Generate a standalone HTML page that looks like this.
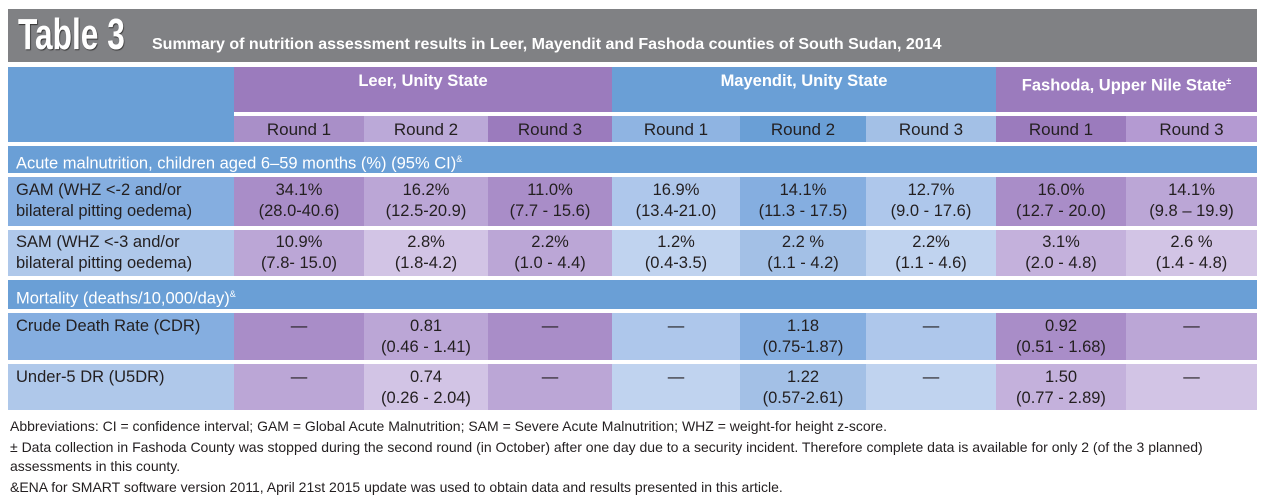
<!DOCTYPE html>
<html><head><meta charset="utf-8"><style>
body{margin:0;width:1267px;height:502px;background:#fff;position:relative;font-family:"Liberation Sans",sans-serif;overflow:hidden}
div.c{position:absolute;box-sizing:border-box;font-size:16.5px;color:#231f20;text-align:center;line-height:21px}
.w{color:#fff!important;font-weight:bold}
.l{text-align:left!important;padding-left:8px}
.fn{position:absolute;left:10px;font-size:14px;color:#231f20;white-space:nowrap}
</style></head><body>
<div class="c" style="left:8px;top:9px;width:1249px;height:53px;background:#808184"></div>
<div class="c w" style="left:18px;top:12px;height:46px;font-size:44px;line-height:46px;transform:scaleX(0.72);transform-origin:left;text-shadow:1px 1px 1px #333;text-align:left">Table 3</div>
<div class="c w" style="left:152px;top:34px;font-size:16px;text-align:left;white-space:nowrap">Summary of nutrition assessment results in Leer, Mayendit and Fashoda counties of South Sudan, 2014</div>

<div class="c" style="left:8px;top:67px;width:226px;height:75px;background:#6a9fd6"></div>
<div class="c w" style="left:234px;top:67px;width:378px;height:45px;background:#9b7bbd;padding-top:4px">Leer, Unity State</div>
<div class="c w" style="left:612px;top:67px;width:384px;height:45px;background:#6a9fd6;padding-top:4px">Mayendit, Unity State</div>
<div class="c w" style="left:996px;top:67px;width:261px;height:45px;background:#9b7bbd;padding-top:4px">Fashoda, Upper Nile State<sup style="font-size:9px">±</sup></div>

<div class="c" style="left:234px;top:116px;width:130px;height:26px;background:#a98fc8;padding-top:3px;font-size:17px">Round 1</div>
<div class="c" style="left:364px;top:116px;width:124px;height:26px;background:#bba9d8;padding-top:3px;font-size:17px">Round 2</div>
<div class="c" style="left:488px;top:116px;width:124px;height:26px;background:#9b7bbd;padding-top:3px;font-size:17px">Round 3</div>
<div class="c" style="left:612px;top:116px;width:128px;height:26px;background:#8fb4e2;padding-top:3px;font-size:17px">Round 1</div>
<div class="c" style="left:740px;top:116px;width:126px;height:26px;background:#6a9fd6;padding-top:3px;font-size:17px">Round 2</div>
<div class="c" style="left:866px;top:116px;width:130px;height:26px;background:#a3c0e6;padding-top:3px;font-size:17px">Round 3</div>
<div class="c" style="left:996px;top:116px;width:130px;height:26px;background:#9b7bbd;padding-top:3px;font-size:17px">Round 1</div>
<div class="c" style="left:1126px;top:116px;width:131px;height:26px;background:#b49ad2;padding-top:3px;font-size:17px">Round 3</div>

<div class="c w l" style="left:8px;top:146px;width:1249px;height:27px;background:#6a9fd6;padding-top:3px;font-weight:normal">Acute malnutrition, children aged 6–59 months (%) (95% CI)<sup style="font-size:9px">&amp;</sup></div>

<div class="c l" style="left:8px;top:177px;width:226px;height:49px;background:#85aee0;padding-top:3px">GAM (WHZ &lt;-2 and/or<br>bilateral pitting oedema)</div>
<div class="c" style="left:234px;top:177px;width:130px;height:49px;background:#a98dc8;padding-top:3px">34.1%<br>(28.0-40.6)</div>
<div class="c" style="left:364px;top:177px;width:124px;height:49px;background:#bba6d6;padding-top:3px">16.2%<br>(12.5-20.9)</div>
<div class="c" style="left:488px;top:177px;width:124px;height:49px;background:#a98dc8;padding-top:3px">11.0%<br>(7.7 - 15.6)</div>
<div class="c" style="left:612px;top:177px;width:128px;height:49px;background:#aec7eb;padding-top:3px">16.9%<br>(13.4-21.0)</div>
<div class="c" style="left:740px;top:177px;width:126px;height:49px;background:#85aee0;padding-top:3px">14.1%<br>(11.3 - 17.5)</div>
<div class="c" style="left:866px;top:177px;width:130px;height:49px;background:#aec7eb;padding-top:3px">12.7%<br>(9.0 - 17.6)</div>
<div class="c" style="left:996px;top:177px;width:130px;height:49px;background:#a98dc8;padding-top:3px">16.0%<br>(12.7 - 20.0)</div>
<div class="c" style="left:1126px;top:177px;width:131px;height:49px;background:#bba6d6;padding-top:3px">14.1%<br>(9.8 – 19.9)</div>

<div class="c l" style="left:8px;top:230px;width:226px;height:46px;background:#afc8ea;padding-top:2px">SAM (WHZ &lt;-3 and/or<br>bilateral pitting oedema)</div>
<div class="c" style="left:234px;top:230px;width:130px;height:46px;background:#bba6d6;padding-top:2px">10.9%<br>(7.8- 15.0)</div>
<div class="c" style="left:364px;top:230px;width:124px;height:46px;background:#d2c4e5;padding-top:2px">2.8%<br>(1.8-4.2)</div>
<div class="c" style="left:488px;top:230px;width:124px;height:46px;background:#bba6d6;padding-top:2px">2.2%<br>(1.0 - 4.4)</div>
<div class="c" style="left:612px;top:230px;width:128px;height:46px;background:#c0d3ef;padding-top:2px">1.2%<br>(0.4-3.5)</div>
<div class="c" style="left:740px;top:230px;width:126px;height:46px;background:#a3c0e6;padding-top:2px">2.2 %<br>(1.1 - 4.2)</div>
<div class="c" style="left:866px;top:230px;width:130px;height:46px;background:#c0d3ef;padding-top:2px">2.2%<br>(1.1 - 4.6)</div>
<div class="c" style="left:996px;top:230px;width:130px;height:46px;background:#c4b1dc;padding-top:2px">3.1%<br>(2.0 - 4.8)</div>
<div class="c" style="left:1126px;top:230px;width:131px;height:46px;background:#d2c4e5;padding-top:2px">2.6 %<br>(1.4 - 4.8)</div>

<div class="c w l" style="left:8px;top:280px;width:1249px;height:29px;background:#6a9fd6;padding-top:4px;font-weight:normal">Mortality (deaths/10,000/day)<sup style="font-size:9px">&amp;</sup></div>

<div class="c l" style="left:8px;top:313px;width:226px;height:47px;background:#85aee0;padding-top:3px">Crude Death Rate (CDR)</div>
<div class="c" style="left:234px;top:313px;width:130px;height:47px;background:#a98dc8;padding-top:3px">—</div>
<div class="c" style="left:364px;top:313px;width:124px;height:47px;background:#bba6d6;padding-top:3px">0.81<br>(0.46 - 1.41)</div>
<div class="c" style="left:488px;top:313px;width:124px;height:47px;background:#a98dc8;padding-top:3px">—</div>
<div class="c" style="left:612px;top:313px;width:128px;height:47px;background:#aec7eb;padding-top:3px">—</div>
<div class="c" style="left:740px;top:313px;width:126px;height:47px;background:#85aee0;padding-top:3px">1.18<br>(0.75-1.87)</div>
<div class="c" style="left:866px;top:313px;width:130px;height:47px;background:#aec7eb;padding-top:3px">—</div>
<div class="c" style="left:996px;top:313px;width:130px;height:47px;background:#a98dc8;padding-top:3px">0.92<br>(0.51 - 1.68)</div>
<div class="c" style="left:1126px;top:313px;width:131px;height:47px;background:#bba6d6;padding-top:3px">—</div>

<div class="c l" style="left:8px;top:364px;width:226px;height:46px;background:#afc8ea;padding-top:3px">Under-5 DR (U5DR)</div>
<div class="c" style="left:234px;top:364px;width:130px;height:46px;background:#bba6d6;padding-top:3px">—</div>
<div class="c" style="left:364px;top:364px;width:124px;height:46px;background:#d2c4e5;padding-top:3px">0.74<br>(0.26 - 2.04)</div>
<div class="c" style="left:488px;top:364px;width:124px;height:46px;background:#bba6d6;padding-top:3px">—</div>
<div class="c" style="left:612px;top:364px;width:128px;height:46px;background:#c0d3ef;padding-top:3px">—</div>
<div class="c" style="left:740px;top:364px;width:126px;height:46px;background:#a3c0e6;padding-top:3px">1.22<br>(0.57-2.61)</div>
<div class="c" style="left:866px;top:364px;width:130px;height:46px;background:#c0d3ef;padding-top:3px">—</div>
<div class="c" style="left:996px;top:364px;width:130px;height:46px;background:#c4b1dc;padding-top:3px">1.50<br>(0.77 - 2.89)</div>
<div class="c" style="left:1126px;top:364px;width:131px;height:46px;background:#d2c4e5;padding-top:3px">—</div>

<div class="fn" style="top:418px">Abbreviations: CI = confidence interval; GAM = Global Acute Malnutrition; SAM = Severe Acute Malnutrition; WHZ = weight-for height z-score.</div>
<div class="fn" style="top:439px">± Data collection in Fashoda County was stopped during the second round (in October) after one day due to a security incident. Therefore complete data is available for only 2 (of the 3 planned)</div>
<div class="fn" style="top:458px">assessments in this county.</div>
<div class="fn" style="top:479px">&amp;ENA for SMART software version 2011, April 21st 2015 update was used to obtain data and results presented in this article.</div>
</body></html>
